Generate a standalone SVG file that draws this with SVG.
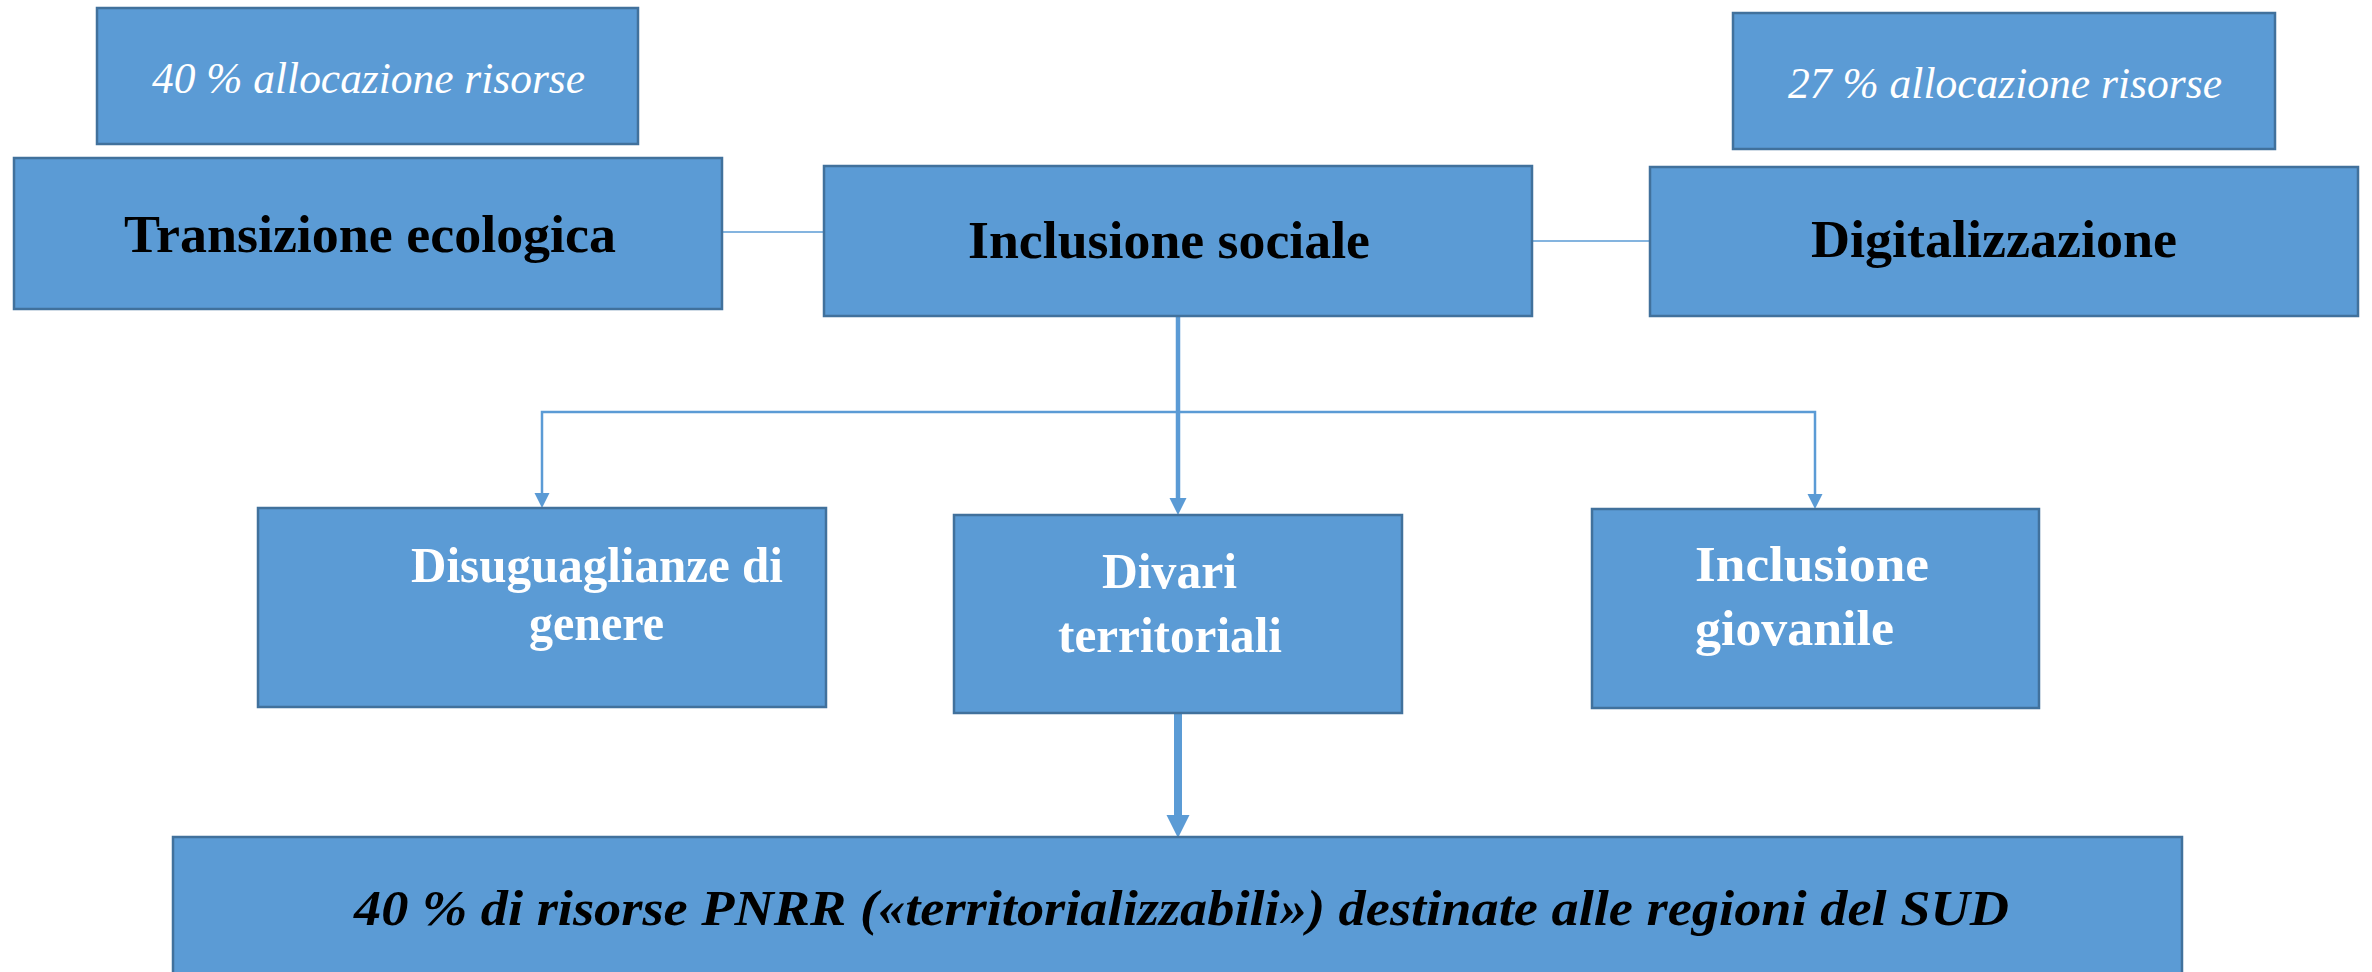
<svg xmlns="http://www.w3.org/2000/svg" width="2372" height="972" viewBox="0 0 2372 972">
<style>
.box{fill:#5b9bd5;stroke:#41719c;stroke-width:2.5}
.t{font-family:"Liberation Serif","DejaVu Serif",serif}
.blk{font-weight:bold;font-size:52px;fill:#000}
.wht{font-weight:bold;font-size:50px;fill:#fff}
.itw{font-style:italic;font-size:44px;fill:#fff}
.bit{font-style:italic;font-weight:bold;font-size:50px;fill:#000}
.ln{stroke:#5b9bd5;fill:none}
.ah{fill:#5b9bd5}
</style>
<rect width="2372" height="972" fill="#fff"/>
<g id="connectors">
<line class="ln" x1="722" y1="232" x2="824" y2="232" stroke-width="1.5"/>
<line class="ln" x1="1532" y1="241" x2="1650" y2="241" stroke-width="1.5"/>
<line class="ln" x1="1178" y1="316" x2="1178" y2="500" stroke-width="4.5"/>
<polygon class="ah" points="1169.5,498 1186.5,498 1178,515"/>
<polyline class="ln" points="542,494 542,412 1815,412 1815,495" stroke-width="2.5"/>
<polygon class="ah" points="534.5,493 549.5,493 542,508"/>
<polygon class="ah" points="1807.5,494 1822.5,494 1815,509"/>
<line class="ln" x1="1178" y1="713" x2="1178" y2="817" stroke-width="8"/>
<polygon class="ah" points="1166.5,815 1189.5,815 1178,838"/>
</g>
<g id="n-alloc40">
<rect class="box" x="97" y="8" width="541" height="136"/>
<text class="t itw" x="152" y="93" textLength="433" lengthAdjust="spacingAndGlyphs">40 % allocazione risorse</text>
</g>
<g id="n-transizione">
<rect class="box" x="14" y="158" width="708" height="151"/>
<text class="t blk" x="124" y="252" textLength="492" lengthAdjust="spacingAndGlyphs">Transizione ecologica</text>
</g>
<g id="n-inclusione">
<rect class="box" x="824" y="166" width="708" height="150"/>
<text class="t blk" x="968" y="258" textLength="402" lengthAdjust="spacingAndGlyphs">Inclusione sociale</text>
</g>
<g id="n-alloc27">
<rect class="box" x="1733" y="13" width="542" height="136"/>
<text class="t itw" x="1788" y="98" textLength="434" lengthAdjust="spacingAndGlyphs">27 % allocazione risorse</text>
</g>
<g id="n-digitalizzazione">
<rect class="box" x="1650" y="167" width="708" height="149"/>
<text class="t blk" x="1811" y="257" textLength="366" lengthAdjust="spacingAndGlyphs">Digitalizzazione</text>
</g>
<g id="n-disuguaglianze">
<rect class="box" x="258" y="508" width="568" height="199"/>
<text class="t wht" x="411" y="582" textLength="372" lengthAdjust="spacingAndGlyphs">Disuguaglianze di</text>
<text class="t wht" x="529" y="640" textLength="135" lengthAdjust="spacingAndGlyphs">genere</text>
</g>
<g id="n-divari">
<rect class="box" x="954" y="515" width="448" height="198"/>
<text class="t wht" x="1102" y="588" textLength="135" lengthAdjust="spacingAndGlyphs">Divari</text>
<text class="t wht" x="1058" y="652" textLength="224" lengthAdjust="spacingAndGlyphs">territoriali</text>
</g>
<g id="n-giovanile">
<rect class="box" x="1592" y="509" width="447" height="199"/>
<text class="t wht" x="1695" y="581" textLength="234" lengthAdjust="spacingAndGlyphs">Inclusione</text>
<text class="t wht" x="1695" y="645" textLength="199" lengthAdjust="spacingAndGlyphs">giovanile</text>
</g>
<g id="n-sud">
<rect class="box" x="173" y="837" width="2009" height="160"/>
<text class="t bit" x="354" y="925" textLength="1655" lengthAdjust="spacingAndGlyphs">40 % di risorse PNRR («territorializzabili») destinate alle regioni del SUD</text>
</g>
</svg>
